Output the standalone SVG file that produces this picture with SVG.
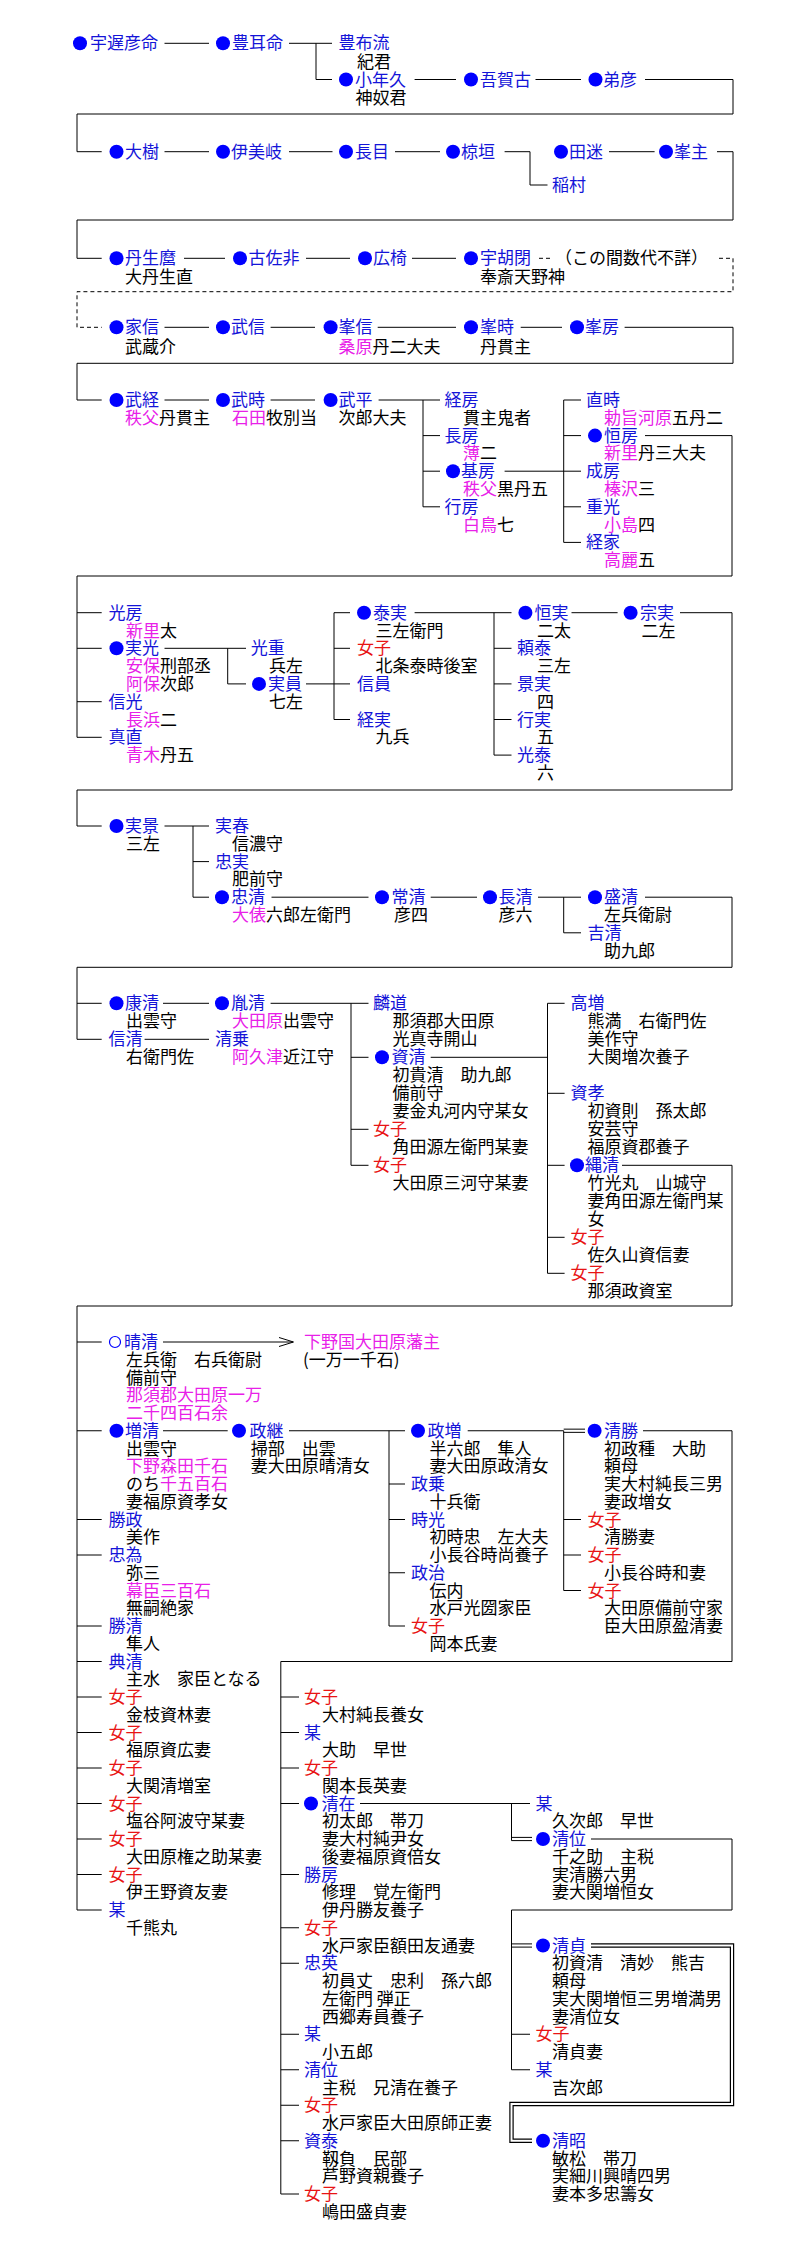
<svg xmlns="http://www.w3.org/2000/svg" width="794" height="2260" viewBox="0 0 794 2260">
<style>
text{font-family:"Noto Sans CJK JP","Noto Sans CJK SC",sans-serif;font-size:17px;fill:#000}
.b{fill:#1414d8}.m{fill:#e820e8}.r{fill:#e81414}
.dot{fill:#0000ff}
.c path{stroke:#000;stroke-width:1;fill:none}
.c .d{stroke-dasharray:4 3}
.c .dbl{stroke-width:4.4}
.c .dblw{stroke:#fff;stroke-width:2}
</style>
<rect width="794" height="2260" fill="#fff"/>
<g class="c" id="connectors">
<path d="M164.5 43.3H209M289 43.3H316V79.5H332M316 43.3H332M414.6 79.5H456M535.5 79.5H581M645 79.5H733V114H77V151.7H101.7"/>
<path d="M164.5 151.7H209M289 151.7H332.5M395 151.7H440M504.6 151.7H530V185H547.5M609 151.7H654.6M717 151.7H733V220H77V258.3H101.7"/>
<path d="M184 258.3H225M306 258.3H350M412 258.3H456"/>
<path class="d" d="M539 258.3H553M719 258.3H733V291.7H77V327.3H101.7"/>
<path d="M164.5 327.3H209M270.6 327.3H315M377.7 327.3H456M520.7 327.3H562M624.6 327.3H733V363.3H77V400H101.7"/>
<path d="M164.5 400H209M270.6 400H315M378.6 400H440M423 400V506.8M423 435.6H440M423 471.2H440M423 506.8H440M504.6 471.2H581M563.7 400V542.4M563.7 400H581M563.7 435.6H581M563.7 506.8H581M563.7 542.4H581M645 435.6H732V576H77V737.3H101.7"/>
<path d="M77 612.7H101.7M77 648.3H101.7M77 701.7H101.7M164.5 648.3H246M227.7 648.3V683.9H246M306 683.9H350M334 612.7V719.5M334 612.7H350M334 648.3H350M334 719.5H350M414.6 612.7H511.5M494 612.7V755.1M494 648.3H511.5M494 683.9H511.5M494 719.5H511.5M494 755.1H511.5M571.5 612.7H617.6M680 612.7H732V790H77V826H101.7"/>
<path d="M164.5 826H209M193 826V897.2H209M193 861.6H209M271.5 897.2H368.5M430.7 897.2H477M538 897.2H581M563.7 897.2V932.8H581M645 897.2H732V967.3H77V1039.3H101.7M77 1003.3H101.7"/>
<path d="M163 1003.3H209M144.6 1039.3H209M270.6 1003.3H368.5M351 1003.3V1165.3M351 1057.3H368.5M351 1129.3H368.5M351 1165.3H368.5M430.7 1057.3H547.5M547.5 1003.3V1273.3M547.5 1003.3H564.6M547.5 1093.3H564.6M547.5 1165.3H564.6M547.5 1237.3H564.6M547.5 1273.3H564.6M622 1165.3H732V1306H77V1910"/>
<path d="M77 1342H101.7M77 1430.75H101.7M77 1519.5H101.7M77 1555H101.7M77 1626H101.7M77 1661.5H101.7M77 1697H101.7M77 1732.5H101.7M77 1768H101.7M77 1803.5H101.7M77 1839H101.7M77 1874.5H101.7M77 1910H101.7"/>
<path d="M163 1342H293M279 1337.5L293.5 1342L279 1346.5"/>
<path d="M163 1430.75H227.7M289 1430.75H405M389 1430.75V1626M389 1484H405M389 1519.5H405M389 1572.75H405M389 1626H405M467.7 1430.75H563.7V1590.5M563.7 1519.5H581M563.7 1555H581M563.7 1590.5H581M563.7 1429.15H585M563.7 1432.35H585M643 1430.75H732V1661.5H280.8V2194"/>
<path d="M280.8 1697H299M280.8 1732.5H299M280.8 1768H299M280.8 1803.5H299M280.8 1874.5H299M280.8 1927.75H299M280.8 1963.25H299M280.8 2034.25H299M280.8 2069.75H299M280.8 2105.25H299M280.8 2140.75H299M280.8 2194H299"/>
<path d="M360 1803.5H530M511.5 1803.5V1840.6M511.5 1837.4H532M511.5 1840.6H532M591 1839H732V1910H511.5V2069.75M511.5 2034.25H530M511.5 2069.75H530M511.5 1943.9H532M511.5 1947.1H532"/>
<path class="dbl" d="M591 1945.5H732V2104H511.5V2140.75H532"/>
<path class="dblw" d="M591 1945.5H732V2104H511.5V2140.75H532"/>
</g>
<g id="gap-note"><text x="555" y="264.3">（この間数代不詳）</text></g>
<g id="n01"><circle class="dot" cx="80" cy="43.3" r="7"/><text class="b" x="90" y="49.3">宇遅彦命</text></g>
<g id="n02"><circle class="dot" cx="223" cy="43.3" r="7"/><text class="b" x="232" y="49.3">豊耳命</text></g>
<g id="n03"><text><tspan class="b" x="338.5" y="49.3">豊布流</tspan><tspan x="357" y="67.6">紀君</tspan></text></g>
<g id="n04"><circle class="dot" cx="346" cy="79.5" r="7"/><text><tspan class="b" x="355" y="85.5">小年久</tspan><tspan x="355.5" y="104">神奴君</tspan></text></g>
<g id="n05"><circle class="dot" cx="471" cy="79.5" r="7"/><text class="b" x="480" y="85.5">吾賀古</text></g>
<g id="n06"><circle class="dot" cx="595.5" cy="79.5" r="7"/><text class="b" x="603" y="85.5">弟彦</text></g>
<g id="n07"><circle class="dot" cx="116.5" cy="151.7" r="7"/><text class="b" x="125" y="157.7">大樹</text></g>
<g id="n08"><circle class="dot" cx="223" cy="151.7" r="7"/><text class="b" x="231" y="157.7">伊美岐</text></g>
<g id="n09"><circle class="dot" cx="346" cy="151.7" r="7"/><text class="b" x="355" y="157.7">長目</text></g>
<g id="n10"><circle class="dot" cx="453" cy="151.7" r="7"/><text class="b" x="461" y="157.7">椋垣</text></g>
<g id="n11"><circle class="dot" cx="561" cy="151.7" r="7"/><text class="b" x="569" y="157.7">田迷</text></g>
<g id="n12"><text class="b" x="552" y="191">稲村</text></g>
<g id="n13"><circle class="dot" cx="666" cy="151.7" r="7"/><text class="b" x="674" y="157.7">峯主</text></g>
<g id="n14"><circle class="dot" cx="116.5" cy="258.3" r="7"/><text><tspan class="b" x="125" y="264.3">丹生麿</tspan><tspan x="125" y="283.3">大丹生直</tspan></text></g>
<g id="n15"><circle class="dot" cx="240" cy="258.3" r="7"/><text class="b" x="248.5" y="264.3">古佐非</text></g>
<g id="n16"><circle class="dot" cx="365" cy="258.3" r="7"/><text class="b" x="373" y="264.3">広椅</text></g>
<g id="n17"><circle class="dot" cx="471" cy="258.3" r="7"/><text><tspan class="b" x="480" y="264.3">宇胡閉</tspan><tspan x="480" y="283.3">奉斎天野神</tspan></text></g>
<g id="n18"><circle class="dot" cx="116.5" cy="327.3" r="7"/><text><tspan class="b" x="125" y="333.3">家信</tspan><tspan x="125" y="352.7">武蔵介</tspan></text></g>
<g id="n19"><circle class="dot" cx="223" cy="327.3" r="7"/><text class="b" x="231" y="333.3">武信</text></g>
<g id="n20"><circle class="dot" cx="330.6" cy="327.3" r="7"/><text><tspan class="b" x="338.5" y="333.3">峯信</tspan><tspan x="338.5" y="352.7"><tspan class="m">桑原</tspan>丹二大夫</tspan></text></g>
<g id="n21"><circle class="dot" cx="471" cy="327.3" r="7"/><text><tspan class="b" x="480" y="333.3">峯時</tspan><tspan x="480" y="352.7">丹貫主</tspan></text></g>
<g id="n22"><circle class="dot" cx="577" cy="327.3" r="7"/><text class="b" x="585" y="333.3">峯房</text></g>
<g id="n23"><circle class="dot" cx="116.5" cy="400" r="7"/><text><tspan class="b" x="125" y="406">武経</tspan><tspan x="125" y="423.8"><tspan class="m">秩父</tspan>丹貫主</tspan></text></g>
<g id="n24"><circle class="dot" cx="223" cy="400" r="7"/><text><tspan class="b" x="231" y="406">武時</tspan><tspan x="232" y="423.8"><tspan class="m">石田</tspan>牧別当</tspan></text></g>
<g id="n25"><circle class="dot" cx="330.6" cy="400" r="7"/><text><tspan class="b" x="338.5" y="406">武平</tspan><tspan x="338.5" y="423.8">次郎大夫</tspan></text></g>
<g id="n26"><text><tspan class="b" x="444.6" y="406">経房</tspan><tspan x="463" y="423.8">貫主鬼者</tspan></text></g>
<g id="n27"><text><tspan class="b" x="444.6" y="441.6">長房</tspan><tspan x="463" y="459.4"><tspan class="m">薄</tspan>二</tspan></text></g>
<g id="n28"><circle class="dot" cx="453" cy="471.2" r="7"/><text><tspan class="b" x="461" y="477.2">基房</tspan><tspan x="463" y="495"><tspan class="m">秩父</tspan>黒丹五</tspan></text></g>
<g id="n29"><text><tspan class="b" x="444.6" y="512.8">行房</tspan><tspan x="463" y="530.6"><tspan class="m">白鳥</tspan>七</tspan></text></g>
<g id="n30"><text><tspan class="b" x="586" y="406">直時</tspan><tspan x="604" y="423.8"><tspan class="m">勅旨河原</tspan>五丹二</tspan></text></g>
<g id="n31"><circle class="dot" cx="595" cy="435.6" r="7"/><text><tspan class="b" x="604" y="441.6">恒房</tspan><tspan x="604" y="459.4"><tspan class="m">新里</tspan>丹三大夫</tspan></text></g>
<g id="n32"><text><tspan class="b" x="586" y="477.2">成房</tspan><tspan x="604" y="495"><tspan class="m">榛沢</tspan>三</tspan></text></g>
<g id="n33"><text><tspan class="b" x="586" y="512.8">重光</tspan><tspan x="604" y="530.6"><tspan class="m">小島</tspan>四</tspan></text></g>
<g id="n34"><text><tspan class="b" x="586" y="548.4">経家</tspan><tspan x="604" y="566.2"><tspan class="m">高麗</tspan>五</tspan></text></g>
<g id="n35"><text><tspan class="b" x="108.6" y="618.7">光房</tspan><tspan x="126" y="636.5"><tspan class="m">新里</tspan>太</tspan></text></g>
<g id="n36"><circle class="dot" cx="116.5" cy="648.3" r="7"/><text><tspan class="b" x="125" y="654.3">実光</tspan><tspan x="126" y="672.1"><tspan class="m">安保</tspan>刑部丞</tspan><tspan x="126" y="689.9"><tspan class="m">阿保</tspan>次郎</tspan></text></g>
<g id="n37"><text><tspan class="b" x="108.6" y="707.7">信光</tspan><tspan x="126" y="725.5"><tspan class="m">長浜</tspan>二</tspan></text></g>
<g id="n38"><text><tspan class="b" x="108.6" y="743.3">真直</tspan><tspan x="126" y="761.1"><tspan class="m">青木</tspan>丹五</tspan></text></g>
<g id="n39"><text><tspan class="b" x="250.8" y="654.3">光重</tspan><tspan x="269" y="672.1">兵左</tspan></text></g>
<g id="n40"><circle class="dot" cx="259" cy="683.9" r="7"/><text><tspan class="b" x="268" y="689.9">実員</tspan><tspan x="269" y="707.7">七左</tspan></text></g>
<g id="n41"><circle class="dot" cx="364" cy="612.7" r="7"/><text><tspan class="b" x="373" y="618.7">泰実</tspan><tspan x="375.4" y="636.5">三左衛門</tspan></text></g>
<g id="n42"><text><tspan class="r" x="357" y="654.3">女子</tspan><tspan x="375.4" y="672.1">北条泰時後室</tspan></text></g>
<g id="n43"><text class="b" x="357" y="689.9">信員</text></g>
<g id="n44"><text><tspan class="b" x="357" y="725.5">経実</tspan><tspan x="375.4" y="743.3">九兵</tspan></text></g>
<g id="n45"><circle class="dot" cx="525.4" cy="612.7" r="7"/><text><tspan class="b" x="534.6" y="618.7">恒実</tspan><tspan x="537" y="636.5">二太</tspan></text></g>
<g id="n46"><text><tspan class="b" x="517" y="654.3">頼泰</tspan><tspan x="537" y="672.1">三左</tspan></text></g>
<g id="n47"><text><tspan class="b" x="517" y="689.9">景実</tspan><tspan x="537" y="707.7">四</tspan></text></g>
<g id="n48"><text><tspan class="b" x="517" y="725.5">行実</tspan><tspan x="537" y="743.3">五</tspan></text></g>
<g id="n49"><text><tspan class="b" x="517" y="761.1">光泰</tspan><tspan x="537" y="778.9">六</tspan></text></g>
<g id="n50"><circle class="dot" cx="630.6" cy="612.7" r="7"/><text><tspan class="b" x="640" y="618.7">宗実</tspan><tspan x="641.6" y="636.5">二左</tspan></text></g>
<g id="n51"><circle class="dot" cx="116.5" cy="826" r="7"/><text><tspan class="b" x="125" y="832">実景</tspan><tspan x="126" y="849.8">三左</tspan></text></g>
<g id="n52"><text><tspan class="b" x="215" y="832">実春</tspan><tspan x="232" y="849.8">信濃守</tspan></text></g>
<g id="n53"><text><tspan class="b" x="215" y="867.6">忠実</tspan><tspan x="232" y="885.4">肥前守</tspan></text></g>
<g id="n54"><circle class="dot" cx="222" cy="897.2" r="7"/><text><tspan class="b" x="231" y="903.2">忠清</tspan><tspan x="232" y="921"><tspan class="m">大俵</tspan>六郎左衛門</tspan></text></g>
<g id="n55"><circle class="dot" cx="382" cy="897.2" r="7"/><text><tspan class="b" x="391.5" y="903.2">常清</tspan><tspan x="394" y="921">彦四</tspan></text></g>
<g id="n56"><circle class="dot" cx="490" cy="897.2" r="7"/><text><tspan class="b" x="498.6" y="903.2">長清</tspan><tspan x="498.6" y="921">彦六</tspan></text></g>
<g id="n57"><circle class="dot" cx="595" cy="897.2" r="7"/><text><tspan class="b" x="604" y="903.2">盛清</tspan><tspan x="604" y="921">左兵衛尉</tspan></text></g>
<g id="n58"><text><tspan class="b" x="587.6" y="938.8">吉清</tspan><tspan x="604" y="956.6">助九郎</tspan></text></g>
<g id="n59"><circle class="dot" cx="116.5" cy="1003.3" r="7"/><text><tspan class="b" x="125" y="1009.3">康清</tspan><tspan x="126" y="1027.3">出雲守</tspan></text></g>
<g id="n60"><text><tspan class="b" x="108.6" y="1045.3">信清</tspan><tspan x="126" y="1063.3">右衛門佐</tspan></text></g>
<g id="n61"><circle class="dot" cx="222" cy="1003.3" r="7"/><text><tspan class="b" x="231" y="1009.3">胤清</tspan><tspan x="232" y="1027.3"><tspan class="m">大田原</tspan>出雲守</tspan></text></g>
<g id="n62"><text><tspan class="b" x="215" y="1045.3">清乗</tspan><tspan x="232" y="1063.3"><tspan class="m">阿久津</tspan>近江守</tspan></text></g>
<g id="n63"><text><tspan class="b" x="373" y="1009.3">麟道</tspan><tspan x="392.5" y="1027.3">那須郡大田原</tspan><tspan x="392.5" y="1045.3">光真寺開山</tspan></text></g>
<g id="n64"><circle class="dot" cx="382" cy="1057.3" r="7"/><text><tspan class="b" x="391.5" y="1063.3">資清</tspan><tspan x="392.5" y="1081.3">初貴清　助九郎</tspan><tspan x="392.5" y="1099.3">備前守</tspan><tspan x="392.5" y="1117.3">妻金丸河内守某女</tspan></text></g>
<g id="n65"><text><tspan class="r" x="373" y="1135.3">女子</tspan><tspan x="392.5" y="1153.3">角田源左衛門某妻</tspan></text></g>
<g id="n66"><text><tspan class="r" x="373" y="1171.3">女子</tspan><tspan x="392.5" y="1189.3">大田原三河守某妻</tspan></text></g>
<g id="n67"><text><tspan class="b" x="570.6" y="1009.3">高増</tspan><tspan x="587.6" y="1027.3">熊満　右衛門佐</tspan><tspan x="587.6" y="1045.3">美作守</tspan><tspan x="587.6" y="1063.3">大関増次養子</tspan></text></g>
<g id="n68"><text><tspan class="b" x="570.6" y="1099.3">資孝</tspan><tspan x="587.6" y="1117.3">初資則　孫太郎</tspan><tspan x="587.6" y="1135.3">安芸守</tspan><tspan x="587.6" y="1153.3">福原資郡養子</tspan></text></g>
<g id="n69"><circle class="dot" cx="577" cy="1165.3" r="7"/><text><tspan class="b" x="585" y="1171.3">縄清</tspan><tspan x="587.6" y="1189.3">竹光丸　山城守</tspan><tspan x="587.6" y="1207.3">妻角田源左衛門某</tspan><tspan x="587.6" y="1225.3">女</tspan></text></g>
<g id="n70"><text><tspan class="r" x="570.6" y="1243.3">女子</tspan><tspan x="587.6" y="1261.3">佐久山資信妻</tspan></text></g>
<g id="n71"><text><tspan class="r" x="570.6" y="1279.3">女子</tspan><tspan x="587.6" y="1297.3">那須政資室</tspan></text></g>
<g id="n72"><circle cx="115" cy="1342" r="5.5" fill="none" stroke="#0000ff" stroke-width="1.2"/><text><tspan class="b" x="124" y="1348">晴清</tspan><tspan x="126" y="1365.75">左兵衛　右兵衛尉</tspan><tspan x="126" y="1383.5">備前守</tspan><tspan class="m" x="126" y="1401.25">那須郡大田原一万</tspan><tspan class="m" x="126" y="1419">二千四百石余</tspan></text></g>
<g id="n73"><text><tspan class="m" x="304" y="1348">下野国大田原藩主</tspan><tspan x="303" y="1365.75">(一万一千石)</tspan></text></g>
<g id="n74"><circle class="dot" cx="116.5" cy="1430.75" r="7"/><text><tspan class="b" x="125" y="1436.75">増清</tspan><tspan x="126" y="1454.5">出雲守</tspan><tspan class="m" x="126" y="1472.25">下野森田千石</tspan><tspan x="126" y="1490">のち<tspan class="m">千五百石</tspan></tspan><tspan x="126" y="1507.75">妻福原資孝女</tspan></text></g>
<g id="n75"><circle class="dot" cx="239" cy="1430.75" r="7"/><text><tspan class="b" x="249.4" y="1436.75">政継</tspan><tspan x="250.8" y="1454.5">掃部　出雲</tspan><tspan x="250.8" y="1472.25">妻大田原晴清女</tspan></text></g>
<g id="n76"><circle class="dot" cx="418" cy="1430.75" r="7"/><text><tspan class="b" x="427.5" y="1436.75">政増</tspan><tspan x="429.4" y="1454.5">半六郎　隼人</tspan><tspan x="429.4" y="1472.25">妻大田原政清女</tspan></text></g>
<g id="n77"><text><tspan class="b" x="411" y="1490">政乗</tspan><tspan x="429.4" y="1507.75">十兵衛</tspan></text></g>
<g id="n78"><text><tspan class="b" x="411" y="1525.5">時光</tspan><tspan x="429.4" y="1543.25">初時忠　左大夫</tspan><tspan x="429.4" y="1561">小長谷時尚養子</tspan></text></g>
<g id="n79"><text><tspan class="b" x="411" y="1578.75">政治</tspan><tspan x="429.4" y="1596.5">伝内</tspan><tspan x="429.4" y="1614.25">水戸光圀家臣</tspan></text></g>
<g id="n80"><text><tspan class="r" x="411" y="1632">女子</tspan><tspan x="429.4" y="1649.75">岡本氏妻</tspan></text></g>
<g id="n81"><circle class="dot" cx="594.6" cy="1430.75" r="7"/><text><tspan class="b" x="604" y="1436.75">清勝</tspan><tspan x="604" y="1454.5">初政種　大助</tspan><tspan x="604" y="1472.25">頼母</tspan><tspan x="604" y="1490">実大村純長三男</tspan><tspan x="604" y="1507.75">妻政増女</tspan></text></g>
<g id="n82"><text><tspan class="r" x="587.6" y="1525.5">女子</tspan><tspan x="604" y="1543.25">清勝妻</tspan></text></g>
<g id="n83"><text><tspan class="r" x="587.6" y="1561">女子</tspan><tspan x="604" y="1578.75">小長谷時和妻</tspan></text></g>
<g id="n84"><text><tspan class="r" x="587.6" y="1596.5">女子</tspan><tspan x="604" y="1614.25">大田原備前守家</tspan><tspan x="604" y="1632">臣大田原盈清妻</tspan></text></g>
<g id="n85"><text><tspan class="b" x="108.6" y="1525.5">勝政</tspan><tspan x="126" y="1543.25">美作</tspan></text></g>
<g id="n86"><text><tspan class="b" x="108.6" y="1561">忠為</tspan><tspan x="126" y="1578.75">弥三</tspan><tspan class="m" x="126" y="1596.5">幕臣三百石</tspan><tspan x="126" y="1614.25">無嗣絶家</tspan></text></g>
<g id="n87"><text><tspan class="b" x="108.6" y="1632">勝清</tspan><tspan x="126" y="1649.75">隼人</tspan></text></g>
<g id="n88"><text><tspan class="b" x="108.6" y="1667.5">典清</tspan><tspan x="126" y="1685.25">主水　家臣となる</tspan></text></g>
<g id="n89"><text><tspan class="r" x="108.6" y="1703">女子</tspan><tspan x="126" y="1720.75">金枝資林妻</tspan></text></g>
<g id="n90"><text><tspan class="r" x="108.6" y="1738.5">女子</tspan><tspan x="126" y="1756.25">福原資広妻</tspan></text></g>
<g id="n91"><text><tspan class="r" x="108.6" y="1774">女子</tspan><tspan x="126" y="1791.75">大関清増室</tspan></text></g>
<g id="n92"><text><tspan class="r" x="108.6" y="1809.5">女子</tspan><tspan x="126" y="1827.25">塩谷阿波守某妻</tspan></text></g>
<g id="n93"><text><tspan class="r" x="108.6" y="1845">女子</tspan><tspan x="126" y="1862.75">大田原権之助某妻</tspan></text></g>
<g id="n94"><text><tspan class="r" x="108.6" y="1880.5">女子</tspan><tspan x="126" y="1898.25">伊王野資友妻</tspan></text></g>
<g id="n95"><text><tspan class="b" x="108.6" y="1916">某</tspan><tspan x="126" y="1933.75">千熊丸</tspan></text></g>
<g id="n96"><text><tspan class="r" x="304" y="1703">女子</tspan><tspan x="322" y="1720.75">大村純長養女</tspan></text></g>
<g id="n97"><text><tspan class="b" x="304" y="1738.5">某</tspan><tspan x="322" y="1756.25">大助　早世</tspan></text></g>
<g id="n98"><text><tspan class="r" x="304" y="1774">女子</tspan><tspan x="322" y="1791.75">関本長英妻</tspan></text></g>
<g id="n99"><circle class="dot" cx="311" cy="1803.5" r="7"/><text><tspan class="b" x="321.4" y="1809.5">清在</tspan><tspan x="322" y="1827.25">初太郎　帯刀</tspan><tspan x="322" y="1845">妻大村純尹女</tspan><tspan x="322" y="1862.75">後妻福原資倍女</tspan></text></g>
<g id="n100"><text><tspan class="b" x="304" y="1880.5">勝房</tspan><tspan x="322" y="1898.25">修理　覚左衛門</tspan><tspan x="322" y="1916">伊丹勝友養子</tspan></text></g>
<g id="n101"><text><tspan class="r" x="304" y="1933.75">女子</tspan><tspan x="322" y="1951.5">水戸家臣額田友通妻</tspan></text></g>
<g id="n102"><text><tspan class="b" x="304" y="1969.25">忠英</tspan><tspan x="322" y="1987">初員丈　忠利　孫六郎</tspan><tspan x="322" y="2004.75">左衛門 弾正</tspan><tspan x="322" y="2022.5">西郷寿員養子</tspan></text></g>
<g id="n103"><text><tspan class="b" x="304" y="2040.25">某</tspan><tspan x="322" y="2058">小五郎</tspan></text></g>
<g id="n104"><text><tspan class="b" x="304" y="2075.75">清位</tspan><tspan x="322" y="2093.5">主税　兄清在養子</tspan></text></g>
<g id="n105"><text><tspan class="r" x="304" y="2111.25">女子</tspan><tspan x="322" y="2129">水戸家臣大田原師正妻</tspan></text></g>
<g id="n106"><text><tspan class="b" x="304" y="2146.75">資泰</tspan><tspan x="322" y="2164.5">靱負　民部</tspan><tspan x="322" y="2182.25">芦野資親養子</tspan></text></g>
<g id="n107"><text><tspan class="r" x="304" y="2200">女子</tspan><tspan x="322" y="2217.75">嶋田盛貞妻</tspan></text></g>
<g id="n108"><text><tspan class="b" x="535.5" y="1809.5">某</tspan><tspan x="552" y="1827.25">久次郎　早世</tspan></text></g>
<g id="n109"><circle class="dot" cx="543" cy="1839" r="7"/><text><tspan class="b" x="552" y="1845">清位</tspan><tspan x="552" y="1862.75">千之助　主税</tspan><tspan x="552" y="1880.5">実清勝六男</tspan><tspan x="552" y="1898.25">妻大関増恒女</tspan></text></g>
<g id="n110"><circle class="dot" cx="543" cy="1945.5" r="7"/><text><tspan class="b" x="552" y="1951.5">清貞</tspan><tspan x="552" y="1969.25">初資清　清妙　熊吉</tspan><tspan x="552" y="1987">頼母</tspan><tspan x="552" y="2004.75">実大関増恒三男増満男</tspan><tspan x="552" y="2022.5">妻清位女</tspan></text></g>
<g id="n111"><text><tspan class="r" x="535.5" y="2040.25">女子</tspan><tspan x="552" y="2058">清貞妻</tspan></text></g>
<g id="n112"><text><tspan class="b" x="535.5" y="2075.75">某</tspan><tspan x="552" y="2093.5">吉次郎</tspan></text></g>
<g id="n113"><circle class="dot" cx="543" cy="2140.75" r="7"/><text><tspan class="b" x="552" y="2146.75">清昭</tspan><tspan x="552" y="2164.5">敏松　帯刀</tspan><tspan x="552" y="2182.25">実細川興晴四男</tspan><tspan x="552" y="2200">妻本多忠籌女</tspan></text></g>
</svg>
